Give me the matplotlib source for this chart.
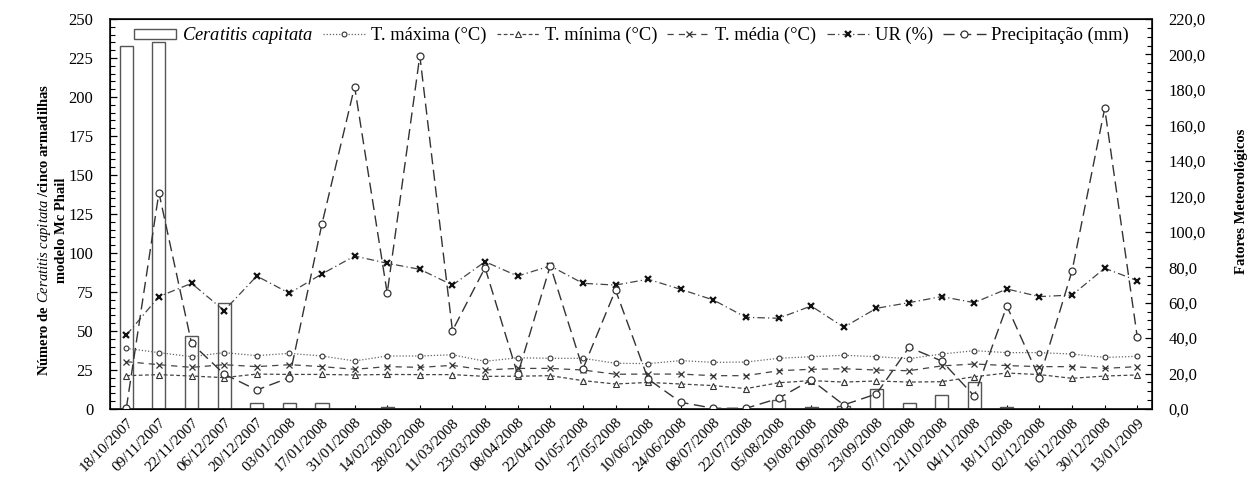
import matplotlib
matplotlib.use("Agg")
import matplotlib.pyplot as plt
import numpy as np
from matplotlib.ticker import MultipleLocator, FuncFormatter
from matplotlib.patches import Patch

plt.rcParams['font.family'] = ['Liberation Serif', 'DejaVu Serif']
plt.rcParams['mathtext.fontset'] = 'custom'
plt.rcParams['mathtext.rm'] = 'Liberation Serif'
plt.rcParams['mathtext.it'] = 'Liberation Serif:italic'
plt.rcParams['mathtext.bf'] = 'Liberation Serif:bold'

dates = ["18/10/2007", "09/11/2007", "22/11/2007", "06/12/2007", "20/12/2007",
         "03/01/2008", "17/01/2008", "31/01/2008", "14/02/2008", "28/02/2008",
         "11/03/2008", "23/03/2008", "08/04/2008", "22/04/2008", "01/05/2008",
         "27/05/2008", "10/06/2008", "24/06/2008", "08/07/2008", "22/07/2008",
         "05/08/2008", "19/08/2008", "09/09/2008", "23/09/2008", "07/10/2008",
         "21/10/2008", "04/11/2008", "18/11/2008", "02/12/2008", "16/12/2008",
         "30/12/2008", "13/01/2009"]

ceratitis = [233, 235, 47, 68, 4, 4, 4, 0, 1, 0, 0, 0, 0, 0, 0, 0,
             0, 0, 0, 0, 6, 1, 2, 13, 4, 9, 17, 1, 0, 0, 0, 0]

t_max = [34.2, 31.8, 29.5, 31.8, 30.1, 31.4, 29.9, 27.1, 29.9, 29.9, 30.6, 26.9,
         28.9, 28.6, 28.6, 25.8, 25.6, 27.3, 26.3, 26.5, 28.6, 29.5, 30.3, 29.5,
         28.4, 31.0, 32.9, 31.8, 31.8, 31.0, 29.1, 29.7]

t_min = [18.8, 19.4, 18.6, 17.7, 19.7, 19.5, 19.5, 19.2, 19.5, 19.4, 19.4, 18.4,
         18.5, 18.8, 16.0, 14.1, 15.0, 14.1, 13.2, 11.5, 14.8, 16.0, 15.2, 15.8,
         15.2, 15.4, 18.2, 20.3, 19.4, 17.3, 18.6, 19.2]

t_med = [26.7, 25.0, 23.5, 25.0, 23.9, 25.0, 23.9, 22.4, 23.9, 23.5, 24.6, 22.0,
         22.9, 22.9, 22.0, 19.6, 19.7, 19.7, 18.8, 18.8, 21.6, 22.4, 22.7, 22.0,
         21.6, 24.3, 25.4, 24.5, 23.9, 23.9, 22.9, 23.9]

ur = [41.7, 63.4, 70.9, 55.5, 75.0, 65.3, 76.2, 86.3, 82.2, 78.8, 69.9, 83.1,
      75.0, 80.7, 70.9, 69.9, 73.2, 67.5, 61.5, 51.7, 51.2, 58.1, 46.1, 56.8,
      60.0, 63.4, 60.0, 67.7, 63.4, 64.3, 79.4, 72.4]

precip = [0.4, 122.0, 37.1, 19.7, 10.7, 17.7, 104.5, 181.8, 65.3, 199.3, 44.2, 79.7,
          19.5, 80.9, 22.6, 67.1, 16.9, 3.8, 0.4, 0.4, 6.0, 16.4, 2.3, 8.5,
          34.8, 27.1, 7.3, 58.1, 17.3, 78.0, 169.6, 40.4]

W, H = 1258, 478
fig = plt.figure(figsize=(W / 100, H / 100), dpi=100)
ax = fig.add_axes([110 / W, 1 - 409 / H, (1152 - 110) / W, (409 - 19) / H])
ax2 = ax.twinx()

x = np.arange(len(dates))
ax.bar(x, ceratitis, width=0.4, facecolor='white', edgecolor='#555555', linewidth=1.0, zorder=2)
ax.set_ylim(0, 250)
ax.set_xlim(-0.5, 31.45)
ax.yaxis.set_major_locator(MultipleLocator(25))
ax.yaxis.set_minor_locator(MultipleLocator(5))
ax.set_xticks(x)
ax.set_xticklabels(dates, rotation=45, ha='right', rotation_mode='anchor', fontsize=11)
ax.tick_params(axis='x', direction='in', length=3, width=0.8, pad=5)
ax.tick_params(axis='y', which='major', direction='in', length=5, width=0.9, labelsize=12, pad=12)
ax.tick_params(axis='y', which='minor', direction='in', length=3.5, width=0.8)
for s in ax.spines.values():
    s.set_linewidth(1.3)
    s.set_color('#222222')

ax2.set_ylim(0, 220)
ax2.yaxis.set_major_locator(MultipleLocator(20))
ax2.yaxis.set_minor_locator(MultipleLocator(5))
ax2.yaxis.set_major_formatter(FuncFormatter(lambda v, p: f"{v:.1f}".replace('.', ',')))
ax2.tick_params(axis='y', which='major', direction='in', length=5, width=0.9, labelsize=12, pad=12)
ax2.tick_params(axis='y', which='minor', direction='in', length=3.5, width=0.8)

c = '#333333'
l1, = ax2.plot(x, t_max, linestyle=(0, (1, 1.5)), color='#666666', linewidth=0.9,
               marker='o', markersize=3.5, markerfacecolor='white', markeredgecolor=c, markeredgewidth=0.8)
l2, = ax2.plot(x, t_min, linestyle=(0, (3, 2)), color='#444444', linewidth=0.9,
               marker='^', markersize=4, markerfacecolor='white', markeredgecolor=c, markeredgewidth=0.8)
l3, = ax2.plot(x, t_med, linestyle=(0, (5, 4)), color='#444444', linewidth=0.9,
               marker='x', markersize=4, markeredgecolor=c, markeredgewidth=0.9)
l4, = ax2.plot(x, ur, linestyle=(0, (6, 2.5, 1, 2.5)), color='#444444', linewidth=0.9,
               marker='x', markersize=4, markeredgecolor='#111111', markeredgewidth=1.6)
l5, = ax2.plot(x, precip, linestyle=(0, (8, 4)), color='#333333', linewidth=1.0,
               marker='o', markersize=5, markerfacecolor='white', markeredgecolor=c, markeredgewidth=0.9)

fig.text(52 / W, 1 - 230 / H,
         "Número de $\\mathit{Ceratitis\\ capitata}$ /cinco armadilhas\nmodelo Mc Phail",
         rotation=90, ha='center', va='center', multialignment='center',
         fontsize=10.5, fontweight='bold', linespacing=1.2)
fig.text(1242 / W, 1 - 201 / H, "Fatores Meteorológicos", rotation=90,
         ha='center', va='center', fontsize=10.5, fontweight='bold')

bar_handle = Patch(facecolor='white', edgecolor='#555555', linewidth=1.0)
handles = [bar_handle, l1, l2, l3, l4, l5]
labels = ["$\\mathit{Ceratitis\\ capitata}$", "T. máxima (°C)", "T. mínima (°C)",
          "T. média (°C)", "UR (%)", "Precipitação (mm)"]
leg = ax2.legend(handles, labels, loc='upper left', bbox_to_anchor=(0.012, 1.012), ncol=6,
                 frameon=False, fontsize=13.3, handlelength=2.3, handleheight=0.5,
                 columnspacing=0.55, handletextpad=0.3, borderaxespad=0.2)

fig.savefig("out.png", dpi=100)
